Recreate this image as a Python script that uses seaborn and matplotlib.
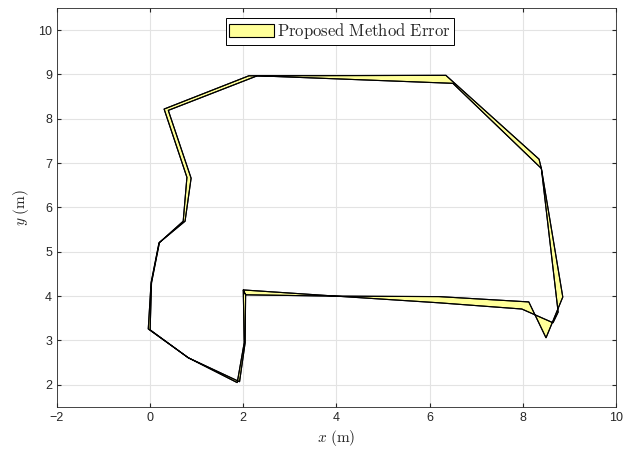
import numpy as np
import pandas as pd
import seaborn as sns
import matplotlib
matplotlib.use("Agg")
import matplotlib.pyplot as plt

# estimated path (one lap)
est_x = [2.00, 4.00, 6.20, 8.13, 8.50, 8.86, 8.40, 8.35, 6.35, 2.12, 0.30, 0.79, 0.71,
         0.19, 0.02, -0.04, 0.82, 1.87, 2.02, 2.00]
est_y = [4.14, 4.00, 3.99, 3.87, 3.06, 3.98, 6.88, 7.09, 8.98, 8.97, 8.22, 6.68, 5.69,
         5.20, 4.30, 3.26, 2.61, 2.05, 2.95, 4.14]

# ground truth path
true_x = [2.05, 4.00, 6.20, 7.98, 8.65, 8.76, 8.40, 6.50, 2.30, 0.39, 0.88, 0.75,
          0.20, 0.03, 0.00, 0.82, 1.92, 2.04, 2.05]
true_y = [4.03, 4.00, 3.85, 3.71, 3.40, 3.64, 6.88, 8.80, 8.97, 8.19, 6.66, 5.69,
          5.21, 4.30, 3.24, 2.61, 2.07, 2.95, 4.03]

legend_label = "Proposed Method Error"
x_ticks = [-2, 0, 2, 4, 6, 8, 10]
y_ticks = [2, 3, 4, 5, 6, 7, 8, 9, 10]

sns.set_style("whitegrid")
plt.rcParams["font.family"] = ["Liberation Sans", "DejaVu Sans"]
plt.rcParams["mathtext.fontset"] = "cm"

fig = plt.figure(figsize=(6.24, 4.55), dpi=100)
ax = fig.add_axes([0.0913, 0.1055, 0.8957, 0.877])

# error region = estimated path followed by the truth path backwards
poly_x = est_x + true_x[::-1]
poly_y = est_y + true_y[::-1]
ax.fill(poly_x, poly_y, facecolor="#ffff99", edgecolor="black", linewidth=0.8,
        label=r"$\mathrm{" + legend_label.replace(" ", r"\ ") + "}$", zorder=3)

df_est = pd.DataFrame({"x": est_x, "y": est_y})
df_true = pd.DataFrame({"x": true_x, "y": true_y})
sns.lineplot(data=df_est, x="x", y="y", sort=False, estimator=None, color="black",
             linewidth=0.8, legend=False, ax=ax, zorder=4)
sns.lineplot(data=df_true, x="x", y="y", sort=False, estimator=None, color="black",
             linewidth=0.8, legend=False, ax=ax, zorder=4)

ax.set_xlim(-2, 10)
ax.set_ylim(1.5, 10.5)
ax.set_xticks(x_ticks)
ax.set_yticks(y_ticks)
ax.tick_params(axis="both", labelsize=9, colors="#262626", direction="in", length=3,
               left=True, bottom=True, top=True, right=True, labeltop=False, labelright=False)
ax.grid(True, color="#e3e3e3", linewidth=0.8)
for sp in ax.spines.values():
    sp.set_color("#262626")
    sp.set_linewidth(0.6)

ax.set_xlabel(r"$x\ \mathrm{(m)}$", fontsize=11, labelpad=3)
ax.set_ylabel(r"$y\ \mathrm{(m)}$", fontsize=11, labelpad=5)

leg = ax.legend(loc="upper center", bbox_to_anchor=(0.506, 0.975), fontsize=12,
                frameon=True, fancybox=False, handlelength=2.7, handleheight=0.9,
                borderpad=0.2, handletextpad=0.2, borderaxespad=0)
leg.get_frame().set_edgecolor("black")
leg.get_frame().set_linewidth(0.7)
leg.get_frame().set_alpha(1)

fig.savefig("out.png", dpi=100)
